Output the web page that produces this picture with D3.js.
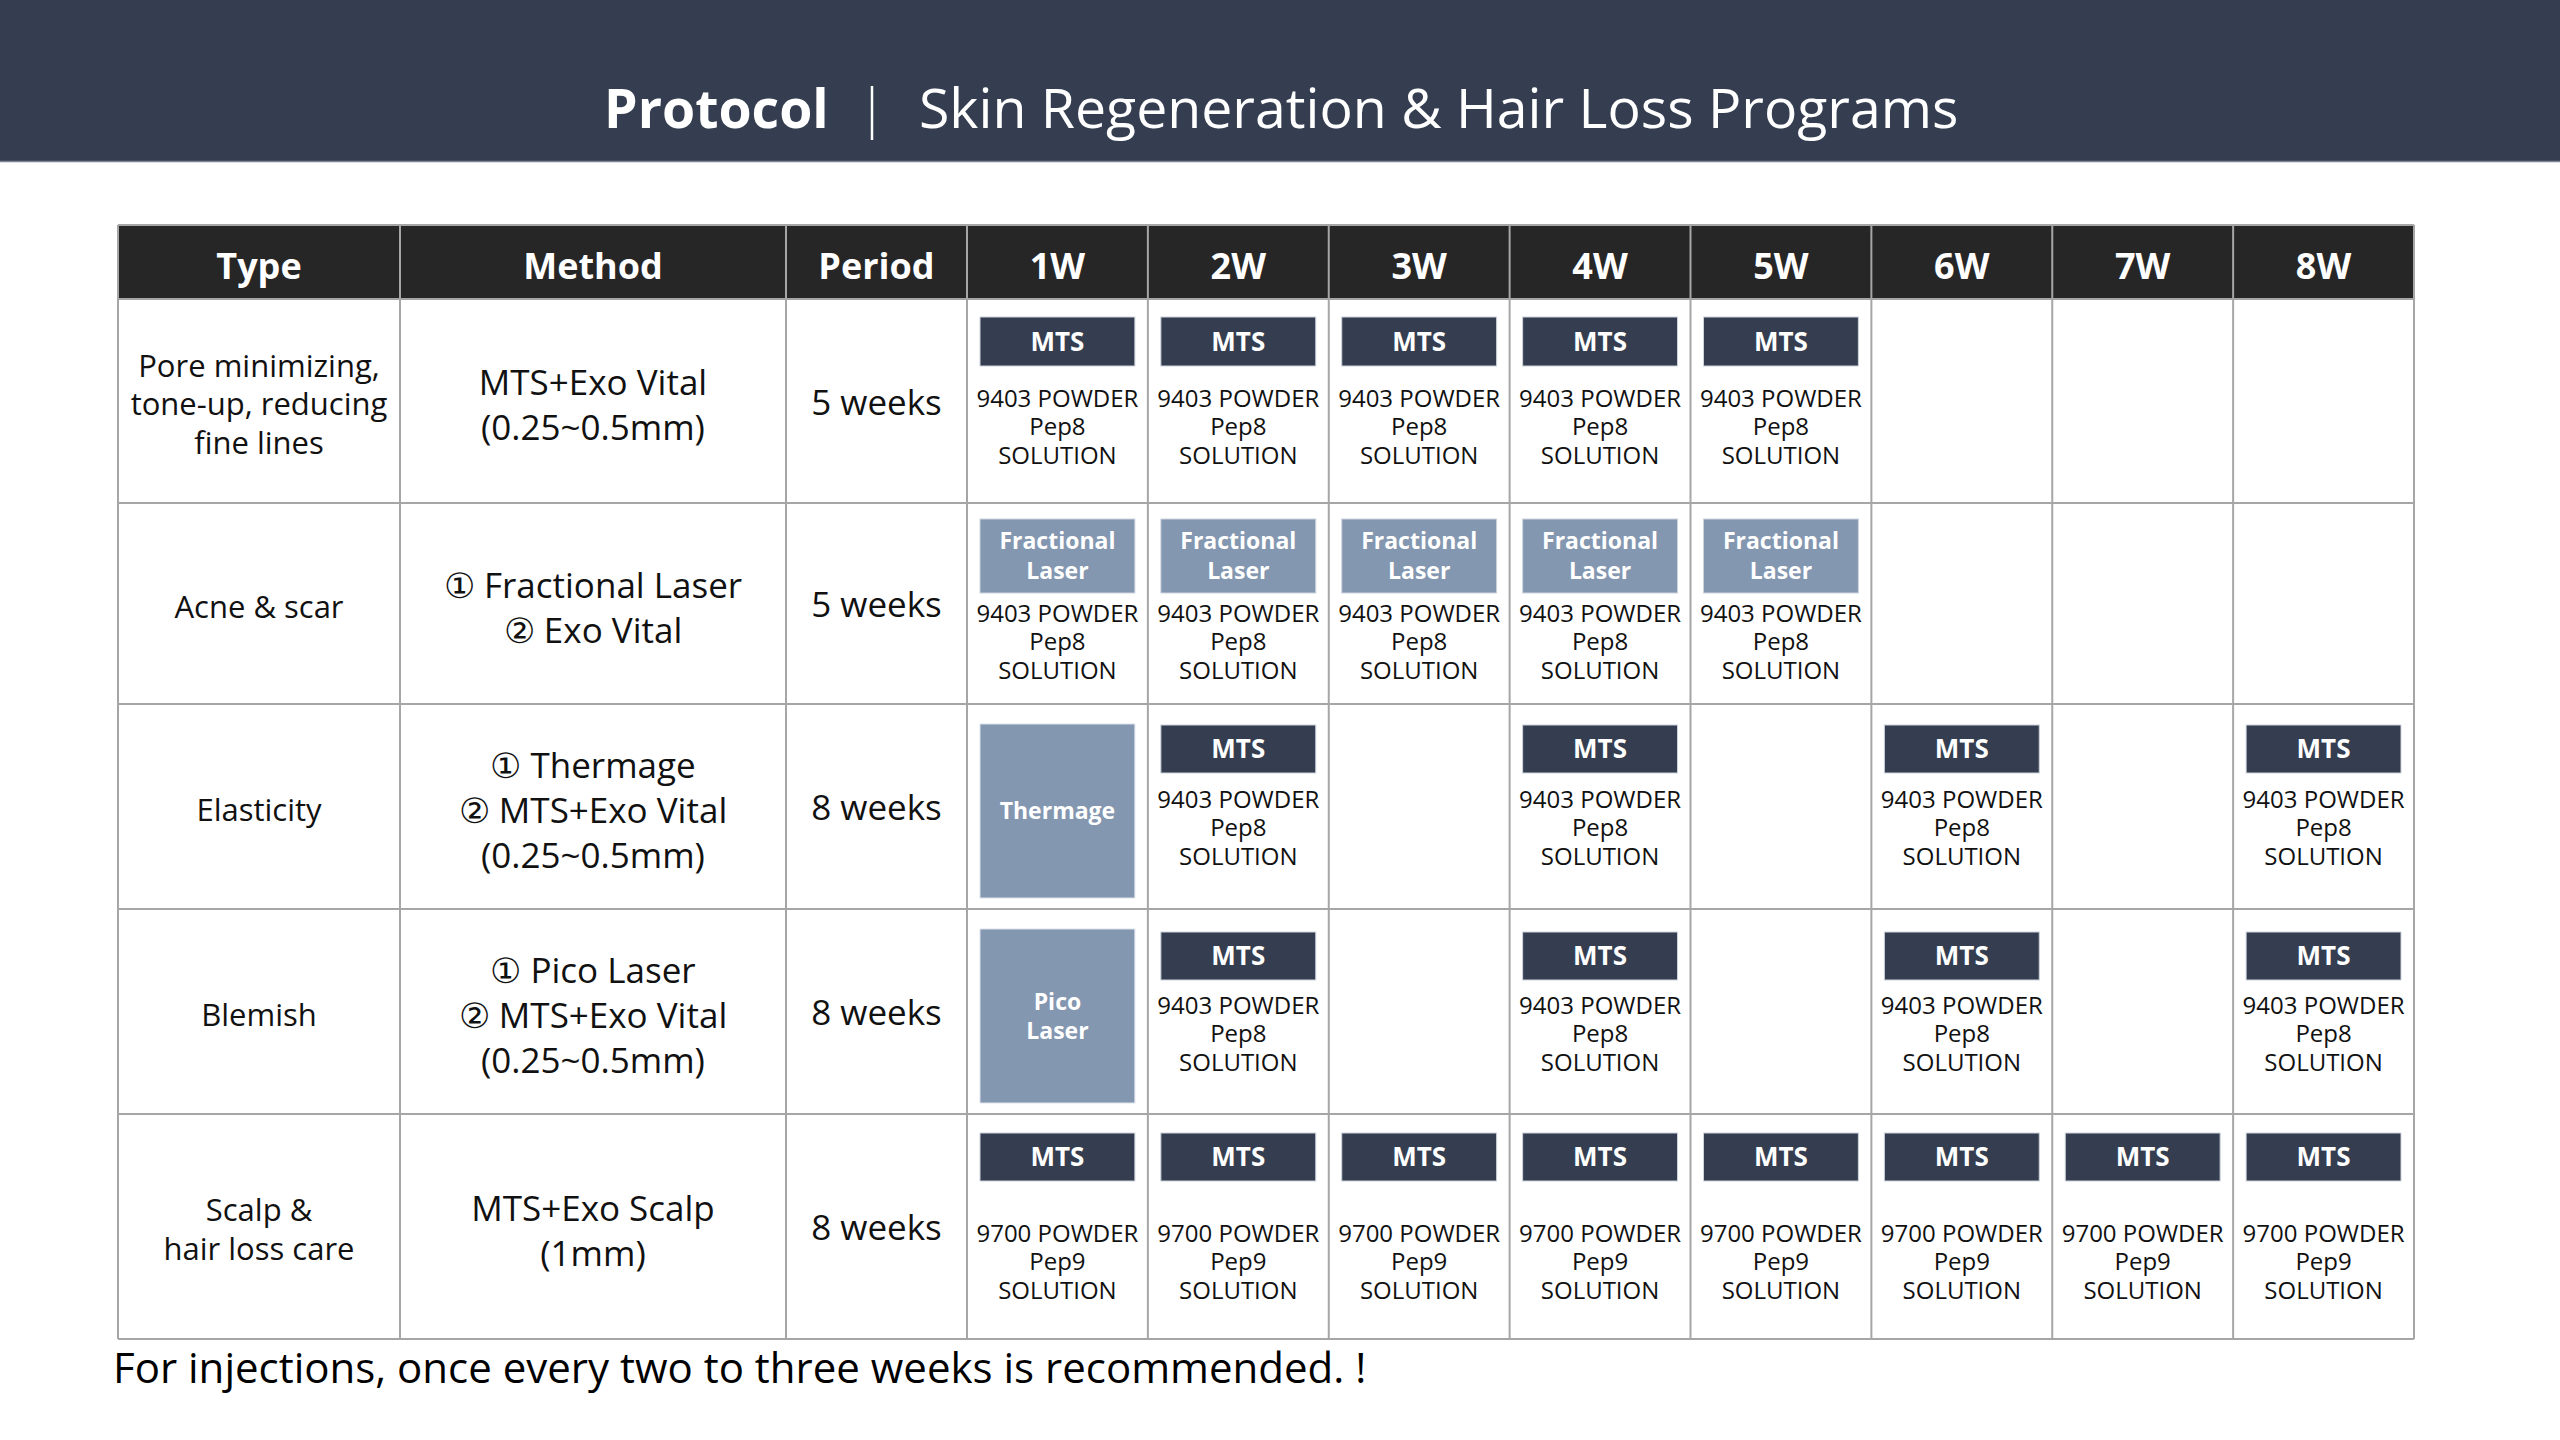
<!DOCTYPE html>
<html><head><meta charset="utf-8">
<script src="https://cdn.jsdelivr.net/npm/d3@7"></script>
<style>html,body{margin:0;padding:0;background:#fff;} svg{display:block;}</style>
</head><body>
<svg id="chart" width="2560" height="1440"></svg>
<script>
// ---------- DATA ----------
const titleBold = "Protocol";
const titleRest = "Skin Regeneration & Hair Loss Programs";
const columnHeaders = ["Type", "Method", "Period"];
const weeks = ["1W", "2W", "3W", "4W", "5W", "6W", "7W", "8W"];
const types = [
  ["Pore minimizing,", "tone-up, reducing", "fine lines"],
  ["Acne & scar"],
  ["Elasticity"],
  ["Blemish"],
  ["Scalp &", "hair loss care"]
];
const methods = [
  ["MTS+Exo Vital", "(0.25~0.5mm)"],
  ["① Fractional Laser", "② Exo Vital"],
  ["① Thermage", "② MTS+Exo Vital", "(0.25~0.5mm)"],
  ["① Pico Laser", "② MTS+Exo Vital", "(0.25~0.5mm)"],
  ["MTS+Exo Scalp", "(1mm)"]
];
const periods = ["5 weeks", "5 weeks", "8 weeks", "8 weeks", "8 weeks"];
const sessionLabels = [["MTS"], ["Fractional", "Laser"], ["MTS"], ["MTS"], ["MTS"]];
const sessionWeeks = [
  ["1W", "2W", "3W", "4W", "5W"],
  ["1W", "2W", "3W", "4W", "5W"],
  ["2W", "4W", "6W", "8W"],
  ["2W", "4W", "6W", "8W"],
  ["1W", "2W", "3W", "4W", "5W", "6W", "7W", "8W"]
];
const productLines = [
  ["9403 POWDER", "Pep8", "SOLUTION"],
  ["9403 POWDER", "Pep8", "SOLUTION"],
  ["9403 POWDER", "Pep8", "SOLUTION"],
  ["9403 POWDER", "Pep8", "SOLUTION"],
  ["9700 POWDER", "Pep9", "SOLUTION"]
];
const deviceWeek = "1W";
const deviceLabels = [null, null, ["Thermage"], ["Pico", "Laser"], null];
const footnote = "For injections, once every two to three weeks is recommended. !";

// ---------- LAYOUT ----------
const FONT = "'Open Sans', 'Noto Sans', sans-serif";
const C = { band: "#343e50", headRow: "#262626", grid: "#a6a6a6", dark: "#343e50", light: "#8497b0", text: "#111" };
const colEdges = [118, 400, 786, 967];
const tableRight = 2414;
const headTop = 225, headBottom = 299;
const rowEdges = [299, 503, 704, 909, 1114, 1339];
const boxOffset = [18, 16, 21, 23, 19];
const boxHeight = [49, 74, 48, 48, 48];
const textOffset = [99, 110, 95, 96, 119];
const deviceOffset = 20, deviceHeight = 174;

const svg = d3.select("#chart");
svg.append("rect").attr("width", 2560).attr("height", 1440).attr("fill", "#fff");

// title band
svg.append("rect").attr("x", 0).attr("y", 0).attr("width", 2560).attr("height", 162).attr("fill", C.band);
svg.append("line").attr("x1", 0).attr("x2", 2560).attr("y1", 161.5).attr("y2", 161.5).attr("stroke", "#7d8593").attr("stroke-width", 1.5);
svg.append("text").attr("x", 604).attr("y", 128).attr("fill", "#fff")
  .style("font-family", FONT).style("font-size", "53.6px").style("font-weight", 700).text(titleBold);
svg.append("line").attr("x1", 872).attr("x2", 872).attr("y1", 86).attr("y2", 140).attr("stroke", "#fff").attr("stroke-width", 2.5);
svg.append("text").attr("x", 919).attr("y", 128).attr("fill", "#fff")
  .style("font-family", FONT).style("font-size", "55.4px").style("font-weight", 400).text(titleRest);

// scales
const x = d3.scaleBand().domain(weeks).range([colEdges[3], tableRight]).padding(0);
const rowIdx = d3.range(types.length);
const rowTop = i => rowEdges[i];
const rowMid = i => (rowEdges[i] + rowEdges[i + 1]) / 2;

// header row
svg.append("rect").attr("x", colEdges[0]).attr("y", headTop).attr("width", tableRight - colEdges[0])
  .attr("height", headBottom - headTop).attr("fill", C.headRow);
const headerCenters = [
  (colEdges[0] + colEdges[1]) / 2, (colEdges[1] + colEdges[2]) / 2, (colEdges[2] + colEdges[3]) / 2
];
const headG = svg.append("g").style("font-family", FONT).style("font-size", "36px").style("font-weight", 700).attr("fill", "#fff").attr("text-anchor", "middle");
headG.selectAll("text.h").data(columnHeaders).join("text").attr("class", "h")
  .attr("x", (d, i) => headerCenters[i]).attr("y", 279).text(d => d);
headG.selectAll("text.w").data(weeks).join("text").attr("class", "w")
  .attr("x", d => x(d) + x.bandwidth() / 2).attr("y", 279).text(d => d);

// multi-line text helper
function lines(g, arr, cx, cy, size, spacing, weight, fill) {
  const n = arr.length;
  g.append("text").attr("text-anchor", "middle").attr("fill", fill)
    .style("font-family", FONT).style("font-size", size + "px").style("font-weight", weight)
    .selectAll("tspan").data(arr).join("tspan")
    .attr("x", cx).attr("y", (d, k) => cy + (k - (n - 1) / 2) * spacing + size * 0.36)
    .text(d => d);
}

const body = svg.append("g");
rowIdx.forEach(i => {
  lines(body, types[i], headerCenters[0], rowMid(i) + 3, 31, 38.5, 400, C.text);
  lines(body, methods[i], headerCenters[1], rowMid(i) + 4, 35, 45, 400, C.text);
  lines(body, [periods[i]], headerCenters[2], rowMid(i) + 1, 35, 45, 400, C.text);

  const inset = 13, bw = x.bandwidth() - 2 * inset;
  // device session (first week big box)
  if (deviceLabels[i]) {
    body.append("rect").attr("x", x(deviceWeek) + inset).attr("y", rowTop(i) + deviceOffset)
      .attr("width", bw).attr("height", deviceHeight).attr("fill", C.light).attr("stroke", "#dce2ea").attr("stroke-width", 1);
    lines(body, deviceLabels[i], x(deviceWeek) + x.bandwidth() / 2, rowTop(i) + deviceOffset + deviceHeight / 2,
      23, 29, 700, "#fff");
  }
  // sessions
  const boxFill = sessionLabels[i].length > 1 ? C.light : C.dark;
  sessionWeeks[i].forEach(w => {
    const cx = x(w) + x.bandwidth() / 2;
    body.append("rect").attr("x", x(w) + inset).attr("y", rowTop(i) + boxOffset[i])
      .attr("width", bw).attr("height", boxHeight[i]).attr("fill", boxFill).attr("stroke", "#cdd3dc").attr("stroke-width", 1);
    const lab = sessionLabels[i];
    lines(body, lab, cx, rowTop(i) + boxOffset[i] + boxHeight[i] / 2, lab.length > 1 ? 23 : 26, 30, 700, "#fff");
    const pl = productLines[i];
    body.append("text").attr("text-anchor", "middle").attr("fill", C.text)
      .style("font-family", FONT).style("font-size", "24px")
      .selectAll("tspan").data(pl).join("tspan")
      .attr("x", cx).attr("y", (d, k) => rowTop(i) + textOffset[i] + k * 28.5 + 8.6)
      .text(d => d);
  });
});

// grid
const grid = svg.append("g").attr("stroke", C.grid).attr("stroke-width", 2).attr("fill", "none");
const vEdges = colEdges.concat(weeks.slice(1).map(w => x(w))).concat([tableRight]);
grid.selectAll("line.v").data(vEdges).join("line").attr("class", "v")
  .attr("x1", d => d).attr("x2", d => d).attr("y1", headTop).attr("y2", rowEdges[rowEdges.length - 1]);
grid.selectAll("line.h").data([headTop].concat(rowEdges)).join("line").attr("class", "h")
  .attr("x1", colEdges[0]).attr("x2", tableRight).attr("y1", d => d).attr("y2", d => d);

// footnote
svg.append("text").attr("x", 113).attr("y", 1383).attr("fill", "#000")
  .style("font-family", FONT).style("font-size", "42px").text(footnote);
</script>
</body></html>
